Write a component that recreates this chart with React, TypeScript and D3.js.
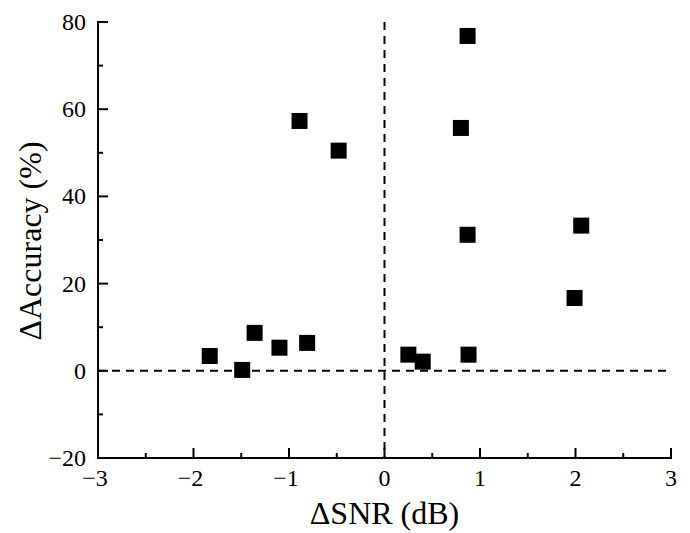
import React from "react";
import * as d3 from "d3";

const snr = [-1.83, -1.49, -1.36, -1.1, -0.81, -0.89, -0.48, 0.25, 0.4, 0.88, 0.8, 0.87, 0.87, 1.99, 2.06];
const acc = [3.4, 0.2, 8.7, 5.3, 6.4, 57.3, 50.5, 3.7, 2.1, 3.7, 55.7, 76.8, 31.2, 16.7, 33.3];
const xTicks = [-3, -2, -1, 0, 1, 2, 3];
const yTicks = [-20, 0, 20, 40, 60, 80];
const xMinor = [-2.5, -1.5, -0.5, 0.5, 1.5, 2.5];
const yMinor = [-10, 10, 30, 50, 70];

const W = 690, H = 533;
const L = 98, R = 671, T = 22, B = 458;

export default function App() {
  const x = d3.scaleLinear().domain([-3, 3]).range([L, R]);
  const y = d3.scaleLinear().domain([-20, 80]).range([B, T]);
  const font = "'Liberation Serif', 'Times New Roman', serif";
  const fmt = (v: number) => (v < 0 ? "\u2212" + Math.abs(v) : String(v));
  const sz = 16;
  return (
    <svg width={W} height={H} style={{ position: "absolute", left: 0, top: 0, background: "#fff" }} fontFamily={font}>
      <line x1={L} x2={R} y1={y(0)} y2={y(0)} stroke="#000" strokeWidth={2} strokeDasharray="8,6" />
      <line x1={x(0)} x2={x(0)} y1={T} y2={B} stroke="#000" strokeWidth={2} strokeDasharray="8,6" />
      {snr.map((v, i) => (
        <rect key={i} x={x(v) - sz / 2} y={y(acc[i]) - sz / 2} width={sz} height={sz} fill="#000" />
      ))}
      <line x1={L} x2={R + 1} y1={B} y2={B} stroke="#000" strokeWidth={2} />
      <line x1={L} x2={L} y1={T - 1} y2={B + 1} stroke="#000" strokeWidth={2} />
      {xTicks.map((t) => (
        <g key={"x" + t}>
          <line x1={x(t)} x2={x(t)} y1={B} y2={B - 10} stroke="#000" strokeWidth={2} />
          <text x={x(t) - (t < 0 ? 3 : 0)} y={B + 28} textAnchor="middle" fontSize={24}>{fmt(t)}</text>
        </g>
      ))}
      {xMinor.map((t) => (
        <line key={"xm" + t} x1={x(t)} x2={x(t)} y1={B} y2={B - 5} stroke="#000" strokeWidth={2} />
      ))}
      {yTicks.map((t) => (
        <g key={"y" + t}>
          <line x1={L} x2={L + 10} y1={y(t)} y2={y(t)} stroke="#000" strokeWidth={2} />
          <text x={L - 12} y={y(t) + 8} textAnchor="end" fontSize={24}>{fmt(t)}</text>
        </g>
      ))}
      {yMinor.map((t) => (
        <line key={"ym" + t} x1={L} x2={L + 5} y1={y(t)} y2={y(t)} stroke="#000" strokeWidth={2} />
      ))}
      <text x={x(0)} y={524} textAnchor="middle" fontSize={32}>ΔSNR (dB)</text>
      <text transform={`translate(41,241) rotate(-90)`} textAnchor="middle" fontSize={32}>ΔAccuracy (%)</text>
    </svg>
  );
}
